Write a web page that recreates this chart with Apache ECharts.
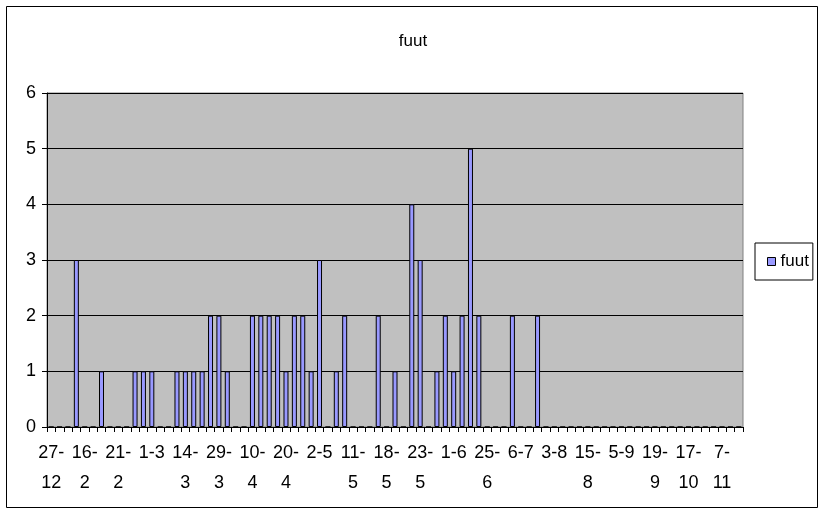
<!DOCTYPE html>
<html>
<head>
<meta charset="utf-8">
<script src="https://cdn.jsdelivr.net/npm/echarts@6/dist/echarts.min.js"></script>
<style>
html,body{margin:0;padding:0;background:#fff;}
#chart{width:826px;height:516px;}
</style>
</head>
<body>
<div id="chart"></div>
<script>
// Category dates (labels visible every 4th category)
const categories = [
  "27-12","5-1","18-1","2-2","16-2","17-2","18-2","20-2","21-2","23-2","25-2","27-2",
  "1-3","4-3","7-3","10-3","14-3","17-3","21-3","25-3","29-3","1-4","4-4","7-4",
  "10-4","12-4","15-4","17-4","20-4","23-4","26-4","29-4","2-5","4-5","6-5","9-5",
  "11-5","13-5","15-5","16-5","18-5","19-5","20-5","22-5","23-5","25-5","27-5","30-5",
  "1-6","7-6","13-6","19-6","25-6","28-6","1-7","4-7","6-7","13-7","20-7","27-7",
  "3-8","6-8","9-8","12-8","15-8","20-8","25-8","30-8","5-9","9-9","12-9","16-9",
  "19-9","26-9","3-10","10-10","17-10","22-10","27-10","2-11","7-11","12-11","17-11"
];
const seriesName = "fuut";
const fuutValues = [
  0,0,0,3,0,0,1,0,0,0,1,1,
  1,0,0,1,1,1,1,2,2,1,0,0,
  2,2,2,2,1,2,2,1,3,0,1,2,
  0,0,0,2,0,1,0,4,3,0,1,2,
  1,2,5,2,0,0,0,2,0,0,2,0,
  0,0,0,0,0,0,0,0,0,0,0,0,
  0,0,0,0,0,0,0,0,0,0,0
];
const yTicks = [0,1,2,3,4,5,6];

const chart = echarts.init(document.getElementById('chart'), null, {renderer:'canvas'});
const font = 'Liberation Sans, Arial, sans-serif';
const fs = 18;
chart.setOption({
  animation: false,
  backgroundColor: '#ffffff',
  textStyle: {fontFamily: font},
  title: {
    text: seriesName,
    left: 'center',
    top: 28,
    textStyle: {fontFamily: font, fontSize: 17, fontWeight: 'normal', color: '#000'}
  },
  legend: {
    left: 755,
    top: 243,
    orient: 'vertical',
    data: [seriesName],
    icon: 'rect',
    itemWidth: 8,
    itemHeight: 8,
    itemGap: 4,
    padding: [10, 4, 10, 12],
    borderColor: '#000',
    borderWidth: 1,
    borderRadius: 0,
    itemStyle: {color: '#9999FF', borderColor: '#000', borderWidth: 1},
    textStyle: {fontFamily: font, fontSize: 17, color: '#000', padding: [0,0,0,0]}
  },
  grid: {
    left: 47, right: 826 - 743, top: 93, bottom: 516 - 427,
    show: true,
    backgroundColor: '#C0C0C0',
    borderColor: '#808080',
    borderWidth: 1,
    containLabel: false
  },
  xAxis: {
    type: 'category',
    data: categories,
    boundaryGap: true,
    axisLine: {show: true, lineStyle: {color: '#000', width: 1}},
    axisTick: {show: true, interval: 0, length: 5, lineStyle: {color: '#000'}},
    axisLabel: {
      interval: 3,
      margin: 11,
      fontFamily: font,
      fontSize: fs,
      color: '#000',
      lineHeight: 30,
      formatter: function (v) {
        if (v.length > 3) {
          const i = v.indexOf('-');
          return v.slice(0, i + 1) + '\n' + v.slice(i + 1);
        }
        return v;
      }
    },
    splitLine: {show: false}
  },
  yAxis: {
    type: 'value',
    min: yTicks[0],
    max: yTicks[yTicks.length - 1],
    interval: 1,
    axisLine: {show: true, lineStyle: {color: '#000', width: 1}},
    axisTick: {show: true, length: 5, lineStyle: {color: '#000'}},
    axisLabel: {margin: 11, fontFamily: font, fontSize: fs, color: '#000'},
    splitLine: {show: true, lineStyle: {color: '#000', width: 1}}
  },
  series: [{
    name: seriesName,
    type: 'bar',
    data: fuutValues,
    barWidth: 5,
    itemStyle: {color: '#9999FF', borderColor: '#000', borderWidth: 1}
  }],
  graphic: [{
    type: 'rect',
    shape: {x: 6.5, y: 6.5, width: 811, height: 501},
    style: {fill: null, stroke: '#000', lineWidth: 1},
    silent: true,
    z: 100
  }]
});
</script>
</body>
</html>
